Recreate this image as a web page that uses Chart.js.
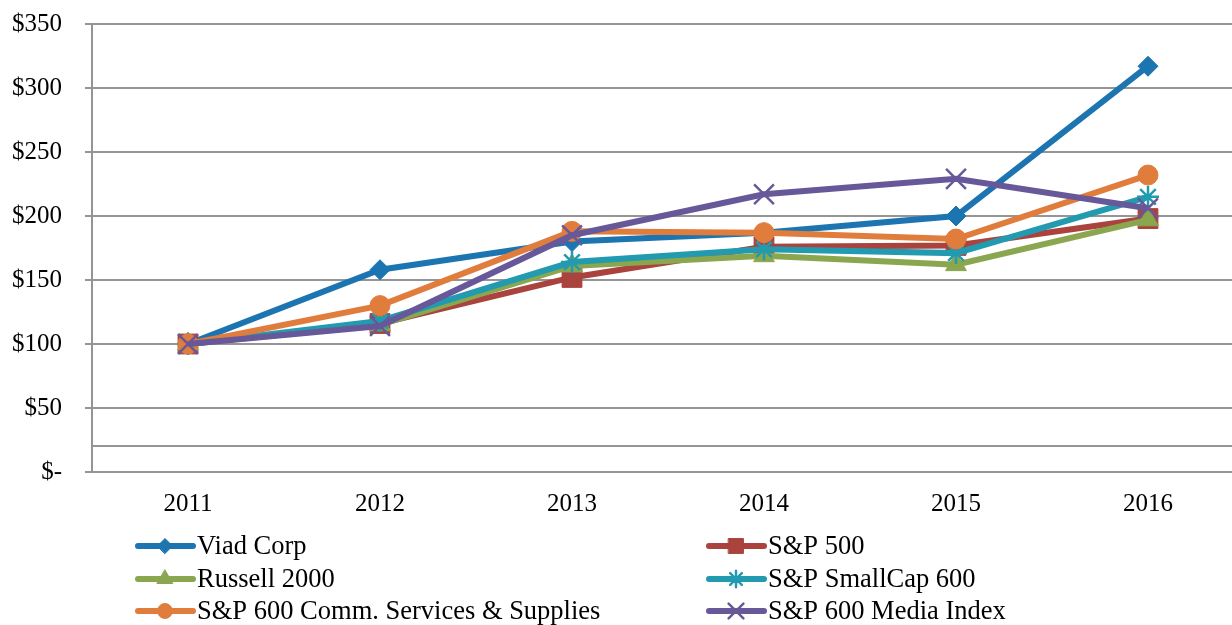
<!DOCTYPE html>
<html>
<head>
<meta charset="utf-8">
<script src="https://cdn.jsdelivr.net/npm/chart.js@4.4.1/dist/chart.umd.min.js"></script>
<style>
  html, body { margin: 0; padding: 0; background: #fff; overflow: hidden; }
  #wrap { position: absolute; left: 0; top: 0; width: 1244px; height: 625px; }
</style>
</head>
<body>
<div id="wrap"><canvas id="perfChart" width="1244" height="625"></canvas></div>
<script>
// Cumulative total return data, $100 invested in 2011
const years = ['2011', '2012', '2013', '2014', '2015', '2016'];

const viadCorp = [100, 158, 180, 187, 200, 317];
const sp500 = [100, 116, 152, 176, 177, 198];
const russell2000 = [100, 115, 161, 169, 162, 197];
const smallCap600 = [100, 118, 164, 174, 171, 215];
const commServices = [100, 130, 188, 187, 182, 232];
const mediaIndex = [100, 114, 185, 217, 229, 206];

const seriesNames = [
  'Viad Corp', 'S&P 500', 'Russell 2000',
  'S&P SmallCap 600', 'S&P 600 Comm. Services & Supplies', 'S&P 600 Media Index'
];
const seriesData = [viadCorp, sp500, russell2000, smallCap600, commServices, mediaIndex];
const seriesColors = ['#1c75b0', '#aa423d', '#8aa64e', '#229bb0', '#e07d3d', '#675899'];
const seriesMarkers = ['rectRot', 'rect', 'triangle', 'star', 'circle', 'crossRot'];
const markerRadius = [10, 14, 12, 11, 10, 14];

// extra horizontal line shown in the reference between $- and $50
const extraGridValue = 20;

const fontFamily = '"Liberation Serif", "Times New Roman", serif';

function formatDollar(value) {
  if (value === 0) return '$-';
  if (value === extraGridValue) return '';
  return '$' + value;
}

// Two-column legend drawn under the plot
const gridLegend = {
  id: 'gridLegend',
  afterDraw(chart) {
    const ctx = chart.ctx;
    const colX = [138, 709];
    const rowY = [546, 579, 611];
    ctx.save();
    chart.data.datasets.forEach((ds, i) => {
      const x = colX[i % 2];
      const y = rowY[Math.floor(i / 2)];
      ctx.strokeStyle = ds.borderColor;
      ctx.lineWidth = 6;
      ctx.lineCap = 'round';
      ctx.beginPath();
      ctx.moveTo(x, y);
      ctx.lineTo(x + 55, y);
      ctx.stroke();
      ctx.fillStyle = ds.pointBackgroundColor;
      ctx.strokeStyle = ds.pointBorderColor;
      ctx.lineWidth = ds.pointBorderWidth;
      Chart.helpers.drawPoint(ctx, {
        pointStyle: ds.pointStyle,
        radius: ds.pointRadius * 0.75,
        rotation: 0,
        borderWidth: ds.pointBorderWidth
      }, x + 27, y);
      ctx.fillStyle = '#000';
      ctx.font = '26.5px ' + fontFamily;
      ctx.textBaseline = 'middle';
      ctx.textAlign = 'left';
      ctx.fillText(ds.label, x + 59, y + 1);
    });
    ctx.restore();
  }
};

const datasets = seriesNames.map((name, i) => {
  const lineMarker = seriesMarkers[i] === 'star' || seriesMarkers[i] === 'crossRot';
  return {
    label: name,
    data: seriesData[i],
    borderColor: seriesColors[i],
    backgroundColor: seriesColors[i],
    borderWidth: 6,
    tension: 0,
    fill: false,
    pointStyle: seriesMarkers[i],
    pointRadius: markerRadius[i],
    pointBackgroundColor: seriesColors[i],
    pointBorderColor: seriesColors[i],
    pointBorderWidth: lineMarker ? 2.5 : 1,
    order: seriesNames.length - i
  };
});

const chartConfig = {
  type: 'line',
  data: { labels: years, datasets: datasets },
  options: {
    responsive: false,
    animation: false,
    layout: { autoPadding: false, padding: { top: 24, left: 0, right: 0, bottom: 0 } },
    plugins: {
      legend: { display: false },
      tooltip: { enabled: false }
    },
    scales: {
      x: {
        type: 'category',
        offset: true,
        grid: { display: false, drawTicks: false },
        border: { display: true, color: '#959595', width: 2 },
        ticks: {
          padding: 17,
          color: '#000',
          font: { family: fontFamily, size: 25 }
        },
        afterFit: function(scale) {
          scale.height = 153;
          scale.paddingLeft = 0;
          scale.paddingRight = 0;
        }
      },
      y: {
        min: 0,
        max: 350,
        grid: {
          color: '#959595',
          lineWidth: 2,
          tickLength: 7,
          tickColor: (c) => (c.tick && c.tick.value === extraGridValue ? 'rgba(0,0,0,0)' : '#959595')
        },
        border: { display: true, color: '#959595', width: 2 },
        ticks: {
          stepSize: 50,
          padding: 23,
          color: '#000',
          font: { family: fontFamily, size: 25 },
          callback: function(value) { return formatDollar(value); }
        },
        afterBuildTicks: function(scale) {
          scale.ticks.push({ value: extraGridValue });
          scale.ticks.sort((a, b) => a.value - b.value);
        },
        afterFit: function(scale) {
          scale.width = 92;
          scale.paddingTop = 0;
          scale.paddingBottom = 0;
        }
      }
    }
  },
  plugins: [gridLegend]
};

new Chart(document.getElementById('perfChart'), chartConfig);
</script>
</body>
</html>
